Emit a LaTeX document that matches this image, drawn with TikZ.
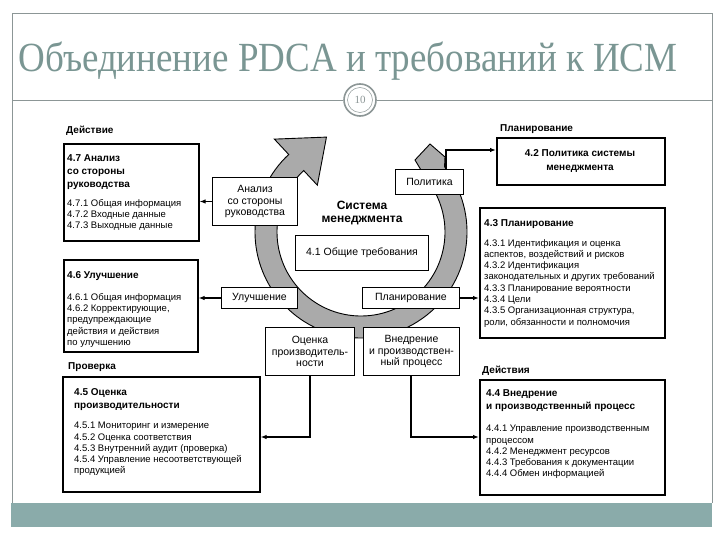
\documentclass[tikz,border=0pt]{standalone}
\usepackage{fontspec}
\setmainfont{Liberation Sans}
\newfontfamily\titlefont{Liberation Serif}
\usetikzlibrary{arrows.meta}
\definecolor{ringgray}{RGB}{170,170,170}
\definecolor{bandcol}{RGB}{138,171,170}
\definecolor{titlecol}{RGB}{122,150,147}
\definecolor{framecol}{RGB}{140,150,150}
\begin{document}
\begin{tikzpicture}[x=1pt,y=-1pt,
  bigbox/.style={draw=black, line width=1.6pt, fill=white, inner sep=0, anchor=north west},
  smallbox/.style={draw=black, line width=1pt, fill=white, align=center, inner sep=0, anchor=north west, font=\fontsize{10.5}{11.5}\selectfont},
  ttl/.style={font=\bfseries\fontsize{10}{13}\selectfont, align=left, anchor=north west, inner sep=0},
  itm/.style={font=\fontsize{9.5}{11.3}\selectfont, align=left, anchor=north west, inner sep=0},
  lbl/.style={font=\bfseries\fontsize{10}{12}\selectfont, anchor=base west, inner sep=0},
  arr/.style={line width=1.2pt, -{Latex[length=6pt,width=4.5pt]}}]
\useasboundingbox (0,0) rectangle (720,540);
\fill[white] (0,0) rectangle (720,540);
% slide frame
\draw[framecol, line width=0.8pt] (12,503) -- (12,13) -- (712,13) -- (712,503);
\fill[bandcol] (11,503) rectangle (712,527);
\draw[framecol, line width=0.8pt] (12,100) -- (343,100);
\draw[framecol, line width=0.8pt] (377,100) -- (712,100);
\node[text=titlecol, font=\titlefont\fontsize{37}{40}\selectfont, anchor=base, inner sep=0] (title) at (348,72) {\scalebox{1}[1.12]{Объединение PDCA и требований к ИСМ}};
\node[circle, draw=framecol, line width=1.6pt, fill=white, minimum size=32pt, inner sep=0, text=framecol, font=\titlefont\fontsize{11}{11}\selectfont] (pg) at (360,100) {10};
\draw[framecol, line width=0.5pt] (pg.center) circle[radius=12.5pt];

% ring
\begin{scope}[shift={(361,232)}]
\filldraw[fill=ringgray, draw=black, line width=0.9pt]
  (38:106pt) arc[start angle=38, end angle=-227, radius=106pt]
  -- (133:127pt) -- (110:101pt) -- (133:64pt) -- (133:84pt)
  arc[start angle=133, end angle=398, radius=84pt]
  -- (54,-72) -- (69,-88) -- (84,-75) -- cycle;
\end{scope}

% left column
\node[lbl] (lact) at (66,134) {Действие};
\node[bigbox, minimum width=135pt, minimum height=97pt] (b47) at (63,143) {};
\node[ttl] (t47) at (67,154) {4.7 Анализ\\со стороны\\руководства};
\node[itm] (i47) at (67,199) {4.7.1 Общая информация\\4.7.2 Входные данные\\4.7.3 Выходные данные};

\node[bigbox, minimum width=134pt, minimum height=92pt] (b46) at (63,259) {};
\node[ttl] (t46) at (67,271) {4.6 Улучшение};
\node[itm] (i46) at (67,293) {4.6.1 Общая информация\\4.6.2 Корректирующие,\\предупреждающие\\действия и действия\\по улучшению};

\node[lbl] (lchk) at (68,369) {Проверка};
\node[bigbox, minimum width=197pt, minimum height=115pt] (b45) at (62,376) {};
\node[ttl] (t45) at (74,388) {4.5 Оценка\\производительности};
\node[itm] (i45) at (74,422) {4.5.1 Мониторинг и измерение\\4.5.2 Оценка соответствия\\4.5.3 Внутренний аудит (проверка)\\4.5.4 Управление несоответствующей\\продукцией};

% center
\node[smallbox, minimum width=85pt, minimum height=48pt] (ana) at (212,177) {Анализ\\со стороны\\руководства};
\node[smallbox, minimum width=76pt, minimum height=21pt] (imp) at (221,287) {Улучшение};
\node[font=\bfseries\fontsize{12}{13.5}\selectfont, align=center, inner sep=0] (sys) at (362,213) {Система\\менеджмента};
\node[smallbox, minimum width=133pt, minimum height=35pt] (gen) at (295,235) {4.1 Общие требования};
\node[smallbox, minimum width=68pt, minimum height=25pt] (pol) at (395,169) {Политика};
\node[smallbox, minimum width=97pt, minimum height=21pt] (pla) at (362,287) {Планирование};
\node[smallbox, minimum width=89pt, minimum height=48pt] (eva) at (265,327) {Оценка\\производитель-\\ности};
\node[smallbox, minimum width=96pt, minimum height=48pt] (vne) at (363,327) {Внедрение\\и производствен-\\ный процесс};

% right column
\node[lbl] (lpla) at (500,132) {Планирование};
\node[bigbox, minimum width=168pt, minimum height=47pt] (b42) at (496,137) {};
\node[font=\bfseries\fontsize{10}{14}\selectfont, align=center, inner sep=0] (t42) at (580,161) {4.2 Политика системы\\менеджмента};

\node[bigbox, minimum width=185pt, minimum height=130pt] (b43) at (479,207) {};
\node[ttl] (t43) at (484,219) {4.3 Планирование};
\node[itm] (i43) at (484,239) {4.3.1 Идентификация и оценка\\аспектов, воздействий и рисков\\4.3.2 Идентификация\\законодательных и других требований\\4.3.3 Планирование вероятности\\4.3.4 Цели\\4.3.5 Организационная структура,\\роли, обязанности и полномочия};

\node[lbl] (ldo) at (482,373) {Действия};
\node[bigbox, minimum width=185pt, minimum height=115pt] (b44) at (479,379) {};
\node[ttl] (t44) at (486,389) {4.4 Внедрение\\и производственный процесс};
\node[itm] (i44) at (486,425) {4.4.1 Управление производственным\\процессом\\4.4.2 Менеджмент ресурсов\\4.4.3 Требования к документации\\4.4.4 Обмен информацией};

% connectors
\draw[arr] (ana.west) -- (ana.west -| b47.east);
\draw[arr] (imp.west) -- (imp.west -| b46.east);
\coordinate (pj) at (446,150);
\draw[arr] (pol.north -| pj) -- (pj) -- (pj -| b42.west);
\draw[arr] (pla.east) -- (pla.east -| b43.west);
\coordinate (ej) at (310,437);
\draw[arr] (eva.south -| ej) -- (ej) -- (ej -| b45.east);
\coordinate (vj) at (411,437);
\draw[arr] (vne.south -| vj) -- (vj) -- (vj -| b44.west);
\end{tikzpicture}
\end{document}
